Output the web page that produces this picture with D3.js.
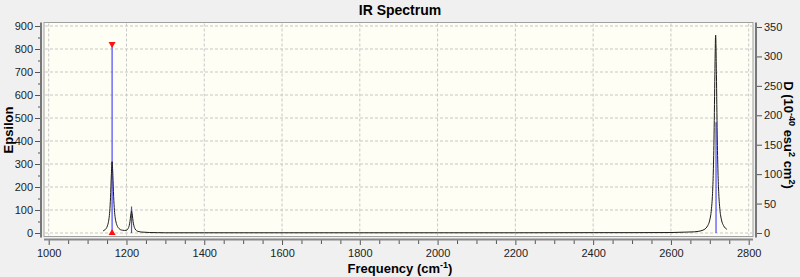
<!DOCTYPE html>
<html>
<head>
<meta charset="utf-8">
<script src="https://cdn.jsdelivr.net/npm/d3@7"></script>
<style>
  html, body { margin: 0; padding: 0; background: #f0f0f0; }
  svg { display: block; font-family: "Liberation Sans", Arial, sans-serif; }
</style>
</head>
<body>
<div id="chart"></div>
<script>
const w = 800;
const h = 277;

// spectrum (frequency in cm-1, epsilon)
const freqs = [1140, 1143, 1147, 1151, 1153, 1155, 1157, 1159, 1161, 1163, 1165, 1167, 1169, 1171, 1173, 1177, 1181, 1185, 1190, 1195, 1200,
  1204, 1207, 1209, 1211, 1213, 1215, 1217, 1219, 1222, 1226, 1232, 1240, 1250, 1260, 1280, 1300, 1400, 1600, 1800, 2000, 2200, 2400,
  2500, 2600, 2640, 2660, 2670, 2680, 2690, 2695, 2700, 2704, 2707, 2709, 2711, 2713, 2715, 2717, 2719, 2721, 2723, 2726, 2730, 2735, 2740, 2744];
const epsilon = [9, 12, 18, 31, 43, 62, 95, 155, 248, 310, 250, 158, 99, 66, 48, 28, 19, 14, 12, 11, 12,
  19, 32, 50, 78, 96, 78, 50, 32, 18, 10, 6, 4, 3, 2, 1.5, 1, 1, 1, 1, 1, 1, 1.5,
  1.5, 2, 4, 5, 7, 11, 21, 33, 57, 101, 172, 265, 430, 688, 860, 688, 430, 265, 172, 101, 57, 33, 21, 16];

// stick intensities (right axis, D)
const stickFreq = [1163, 1213, 2716];
const stickD = [321, 45, 188];
const selectedPeak = 0;

const xTicks = [1000, 1200, 1400, 1600, 1800, 2000, 2200, 2400, 2600, 2800];
const epsTicks = [0, 100, 200, 300, 400, 500, 600, 700, 800, 900];
const dTicks = [0, 50, 100, 150, 200, 250, 300, 350];

const plot = { left: 44, right: 753, top: 22.5, bottom: 236.5 };

const x = d3.scaleLinear().domain([1000, 2800]).range([48.7, 748.7]);
const yL = d3.scaleLinear().domain([0, 900]).range([233, 26]);
const yR = d3.scaleLinear().domain([0, 350]).range([233, 27]);

const svg = d3.select("#chart")
  .append("svg")
  .attr("width", w)
  .attr("height", h);

svg.append("rect")
  .attr("x", plot.left).attr("y", plot.top)
  .attr("width", plot.right - plot.left).attr("height", plot.bottom - plot.top)
  .attr("fill", "#fefef4")
  .attr("stroke", "#a0a0a0");

// grid
svg.append("g").selectAll("line")
  .data(xTicks).enter().append("line")
  .attr("x1", d => x(d)).attr("x2", d => x(d))
  .attr("y1", plot.top + 1).attr("y2", plot.bottom - 1)
  .attr("stroke", "#c8c8c8").attr("stroke-dasharray", "3,2");
svg.append("g").selectAll("line")
  .data(epsTicks).enter().append("line")
  .attr("x1", plot.left + 1).attr("x2", plot.right - 1)
  .attr("y1", d => yL(d)).attr("y2", d => yL(d))
  .attr("stroke", "#c8c8c8").attr("stroke-dasharray", "3,2");

// sticks
svg.append("g").selectAll("line")
  .data(stickFreq).enter().append("line")
  .attr("x1", d => x(d)).attr("x2", d => x(d))
  .attr("y1", yR(0)).attr("y2", (d, i) => yR(stickD[i]))
  .attr("stroke", "#4a4aff").attr("stroke-width", 1.2);

// spectrum
const line = d3.line()
  .x((d, i) => x(freqs[i]))
  .y(d => yL(d))
  .curve(d3.curveMonotoneX);
svg.append("path")
  .datum(epsilon)
  .attr("d", line)
  .attr("fill", "none")
  .attr("stroke", "#1a1a1a")
  .attr("stroke-width", 1);

// selected peak markers
const sx = x(stickFreq[selectedPeak]);
const sy = yR(stickD[selectedPeak]);
svg.append("path")
  .attr("d", `M${sx - 3.5},${sy - 2}L${sx + 3.5},${sy - 2}L${sx},${sy + 4}Z`)
  .attr("fill", "#ff1010");
svg.append("path")
  .attr("d", `M${sx - 3.5},${yR(0) + 2}L${sx + 3.5},${yR(0) + 2}L${sx},${yR(0) - 4}Z`)
  .attr("fill", "#ff1010");

// axes
const axisColor = "#555";
svg.append("g").attr("transform", "translate(41,0)")
  .call(d3.axisLeft(yL).tickValues(epsTicks).tickSize(6).tickPadding(2));
svg.append("g").attr("transform", "translate(41,0)")
  .call(d3.axisLeft(yL).tickValues(d3.range(50, 900, 100)).tickSize(3).tickFormat(""));
svg.append("g").attr("transform", "translate(756,0)")
  .call(d3.axisRight(yR).tickValues(dTicks).tickSize(6).tickPadding(2));
svg.append("g").attr("transform", "translate(0,240)")
  .call(d3.axisBottom(x).tickValues(xTicks).tickSize(5).tickPadding(4).tickFormat(d3.format("d")));
svg.append("g").attr("transform", "translate(0,240)")
  .call(d3.axisBottom(x).tickValues(d3.range(1050, 2800, 50).filter(v => v % 200 !== 0)).tickSize(4).tickFormat(""));

svg.selectAll(".domain").remove();
svg.selectAll(".tick line").attr("stroke", axisColor);
svg.selectAll(".tick text").attr("font-size", 11).attr("fill", "#222");

svg.append("line").attr("x1", 41).attr("x2", 41).attr("y1", plot.top).attr("y2", plot.bottom + 1)
  .attr("stroke", "#777").attr("stroke-width", 2);
svg.append("line").attr("x1", 756).attr("x2", 756).attr("y1", plot.top).attr("y2", plot.bottom + 1)
  .attr("stroke", "#777").attr("stroke-width", 2);
svg.append("line").attr("x1", plot.left).attr("x2", plot.right).attr("y1", 239.5).attr("y2", 239.5)
  .attr("stroke", "#888").attr("stroke-width", 2);

// titles
svg.append("text")
  .attr("x", 400).attr("y", 15)
  .attr("text-anchor", "middle")
  .attr("font-size", 14).attr("font-weight", "bold")
  .text("IR Spectrum");

const xl = svg.append("text")
  .attr("x", 400).attr("y", 273)
  .attr("text-anchor", "middle")
  .attr("font-size", 13).attr("font-weight", "bold");
xl.append("tspan").text("Frequency (cm");
xl.append("tspan").attr("font-size", 9).attr("dy", -5).text("-1");
xl.append("tspan").attr("dy", 5).text(")");

svg.append("text")
  .attr("transform", "translate(13,130) rotate(-90)")
  .attr("text-anchor", "middle")
  .attr("font-size", 13).attr("font-weight", "bold")
  .text("Epsilon");

const yr = svg.append("text")
  .attr("transform", "translate(784,135) rotate(90)")
  .attr("text-anchor", "middle")
  .attr("font-size", 13).attr("font-weight", "bold");
yr.append("tspan").text("D (10");
yr.append("tspan").attr("font-size", 9).attr("dy", -5).text("-40");
yr.append("tspan").attr("dy", 5).text(" esu");
yr.append("tspan").attr("font-size", 9).attr("dy", -5).text("2");
yr.append("tspan").attr("dy", 5).text(" cm");
yr.append("tspan").attr("font-size", 9).attr("dy", -5).text("2");
yr.append("tspan").attr("dy", 5).text(")");
</script>
</body>
</html>
